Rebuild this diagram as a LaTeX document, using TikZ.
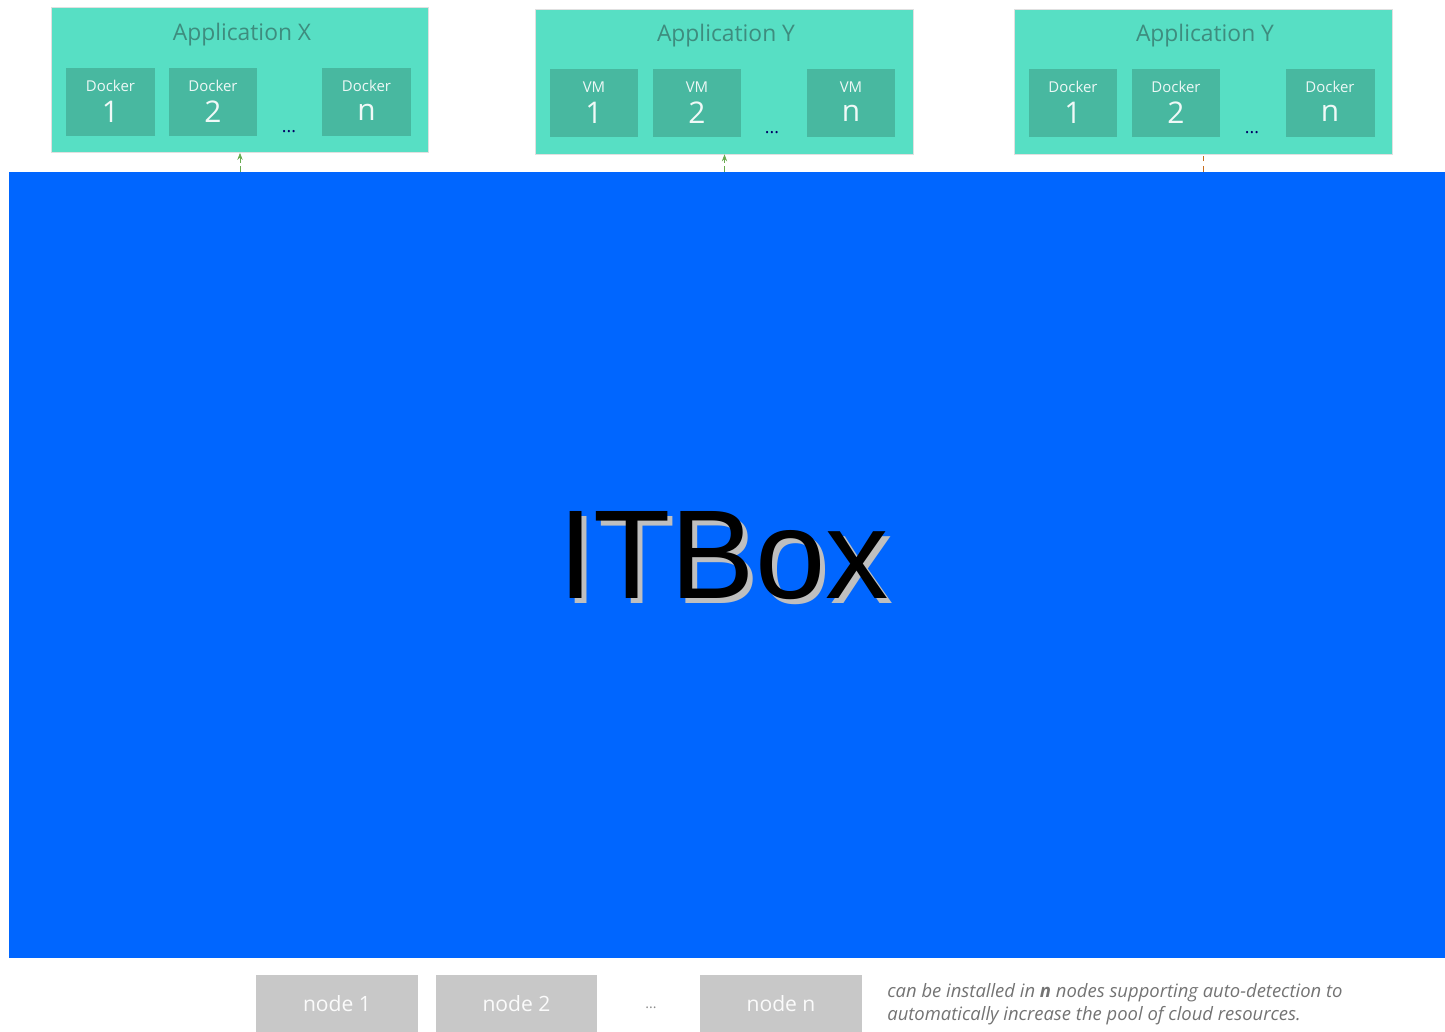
\documentclass[tikz,border=0pt]{standalone}
\usepackage{fontspec}
\setmainfont{Open Sans}
\newfontfamily\logofont{Liberation Sans}
\usetikzlibrary{arrows.meta}

\definecolor{appgreen}{RGB}{87,223,196}
\definecolor{dockgreen}{RGB}{72,184,160}
\definecolor{titlegray}{RGB}{62,140,126}
\definecolor{itblue}{RGB}{0,102,255}
\definecolor{nodegray}{RGB}{200,200,200}
\definecolor{linkgreen}{RGB}{104,170,80}
\definecolor{linkbrown}{RGB}{200,110,30}

\begin{document}
\begin{tikzpicture}[
    x=0.02cm, y=-0.02cm,
    app/.style={draw=black!12, fill=appgreen, inner sep=0pt, minimum width=7.55cm, minimum height=2.9cm},
    apptitle/.style={text=titlegray, font=\fontsize{13}{15}\selectfont},
    unit/.style={fill=dockgreen, inner sep=0pt, minimum width=1.78cm, minimum height=1.36cm},
    unitkind/.style={text=white!90!dockgreen, inner sep=0pt, font=\fontsize{8.5}{10}\selectfont},
    unitnum/.style={text=white!92!dockgreen, inner sep=0pt, font=\fontsize{17}{18}\selectfont},
    dots/.style={text=blue!40!black, font=\fontsize{10}{12}\selectfont},
    host/.style={fill=nodegray, inner sep=0pt, minimum width=3.24cm, minimum height=1.14cm,
        text=white!93!nodegray, font=\fontsize{12}{14}\selectfont},
    link/.style={linkgreen, densely dashed, -{Stealth[length=4pt,width=3pt]}},
]
    \useasboundingbox (0,0) rectangle (1445,1032);

    % Application boxes
    \node[app] (appx) at (240,80) {};
    \node[app] (appy) at (724.5,81.5) {};
    \node[app] (appz) at (1203.5,81.5) {};
    \node[apptitle] (tx) at (242,35) {Application X};
    \node[apptitle] (ty) at (726,36) {Application Y};
    \node[apptitle] (tz) at (1205,36) {Application Y};

    % Units inside the applications
    \foreach \x/\n [count=\i] in {110.5/1,213/2,366.5/n} {
        \node[unit] (ux\i) at (\x,102) {};
        \node[unitkind] (kx\i) at (\x,86) {Docker};
        \node[unitnum] (nx\i) at (\x,112) {\n};
    }
    \foreach \x/\n [count=\i] in {594/1,697/2,851/n} {
        \node[unit] (uy\i) at (\x,103) {};
        \node[unitkind] (ky\i) at (\x,87) {VM};
        \node[unitnum] (ny\i) at (\x,113) {\n};
    }
    \foreach \x/\n [count=\i] in {1073/1,1176/2,1330/n} {
        \node[unit] (uz\i) at (\x,103) {};
        \node[unitkind] (kz\i) at (\x,87) {Docker};
        \node[unitnum] (nz\i) at (\x,113) {\n};
    }
    \node[dots] (dx) at (289,132) {...};
    \node[dots] (dy) at (772,133) {...};
    \node[dots] (dz) at (1252,133) {...};

    % ITBox
    \node[fill=itblue, inner sep=0pt, minimum width=28.72cm, minimum height=15.72cm] (itbox) at (727,565) {};
    \node[text=black!25, font=\logofont\fontsize{72}{80}\selectfont] (logoshadow) at (728.5,561) {ITBox};
    \node[text=black, font=\logofont\fontsize{72}{80}\selectfont] (logo) at (723.5,556) {ITBox};

    % Links
    \draw[link] (appx.south |- itbox.north) -- (appx.south);
    \draw[link] (appy.south |- itbox.north) -- (appy.south);
    \draw[linkbrown, dashed, line width=1pt] (appz.south |- itbox.north) -- (appz.south);

    % Hosts
    \node[host] (h1) at (337,1003.5) {node 1};
    \node[host] (h2) at (516.5,1003.5) {node 2};
    \node[host] (hn) at (781,1003.5) {node n};
    \node[text=black!45, font=\fontsize{8}{10}\selectfont] (hd) at (651,1008) {...};
    \node[anchor=west, align=left, text=black!55, inner sep=0pt,
        font=\itshape\fontsize{10.5}{13}\selectfont] (note) at (887,1004)
        {can be installed in \textbf{n} nodes supporting auto-detection to\\automatically increase the pool of cloud resources.};
\end{tikzpicture}
\end{document}
